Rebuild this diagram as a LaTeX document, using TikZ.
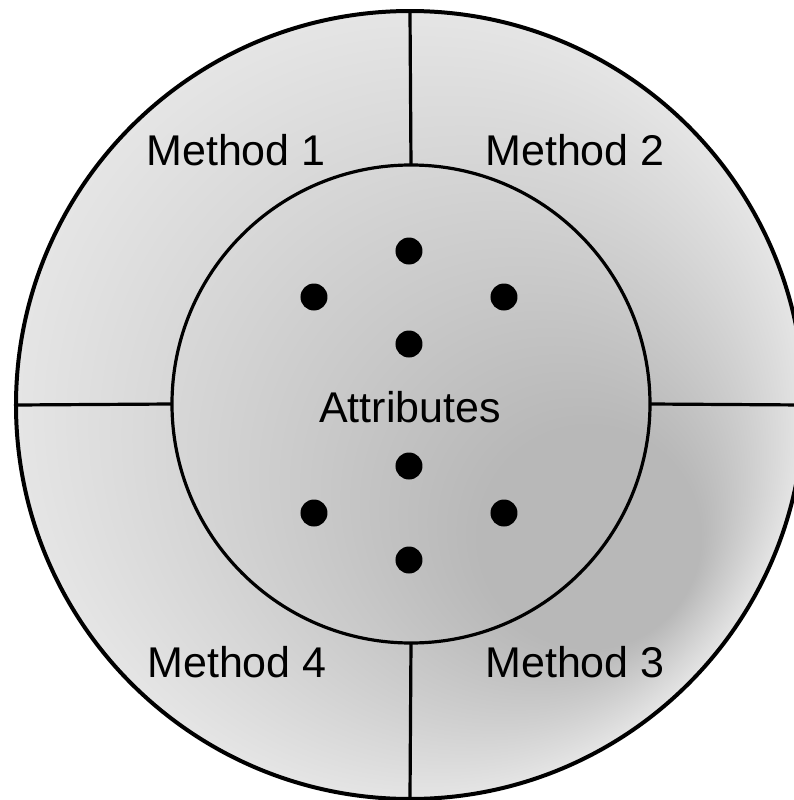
\documentclass[tikz,border=0pt]{standalone}
\usepackage{fontspec}
\setmainfont{Liberation Sans}
\usetikzlibrary{positioning}
\definecolor{SphereDark}{HTML}{B8B8B8}
\definecolor{SphereMid}{HTML}{C8C8C8}
\definecolor{SphereSoft}{HTML}{D7D7D7}
\definecolor{SphereLight}{HTML}{E5E5E5}
\pgfdeclareradialshading{methodsphere}{\pgfpoint{15.9bp}{-11.7bp}}{%
  color(0bp)=(SphereDark); color(7bp)=(SphereDark); color(13bp)=(SphereMid);
  color(19bp)=(SphereSoft); color(25bp)=(SphereLight)}

\begin{document}
\begin{tikzpicture}[x=0.5pt,y=0.5pt]
  \tikzset{ring/.style={circle, draw=black, outer sep=0pt, inner sep=0pt},
    attrdot/.style={circle, fill=black, minimum size=13.5pt, inner sep=0pt},
    methodlabel/.style={anchor=base, inner sep=0pt, font=\fontsize{21.5}{26}\selectfont}}
  \useasboundingbox (-410,-395) rectangle (384,405);
  \node[ring, line width=2pt, minimum size=394pt, shading=methodsphere] (outer) at (0,0) {};
  \node[ring, line width=1.6pt, minimum size=239pt] (inner) at (1,1) {};
  % dividers between the methods
  \foreach \a in {north,south,east,west}{\draw[line width=1.6pt] (outer.\a) -- (inner.\a);}
  % attribute dots
  \foreach \dx/\dy [count=\i] in {-1/154,-96/108,94/108,-1/61,-1/-61,-96/-108,94/-108,-1/-155}{
    \node[attrdot] (dot\i) at (\dx,\dy) {};}
  \node[methodlabel] (attr) at (0,-17) {Attributes};
  \node[methodlabel] (m1) at (-174,240) {Method 1};
  \node[methodlabel] (m2) at (165,240) {Method 2};
  \node[methodlabel] (m3) at (165,-272) {Method 3};
  \node[methodlabel] (m4) at (-173,-272) {Method 4};
\end{tikzpicture}
\end{document}
